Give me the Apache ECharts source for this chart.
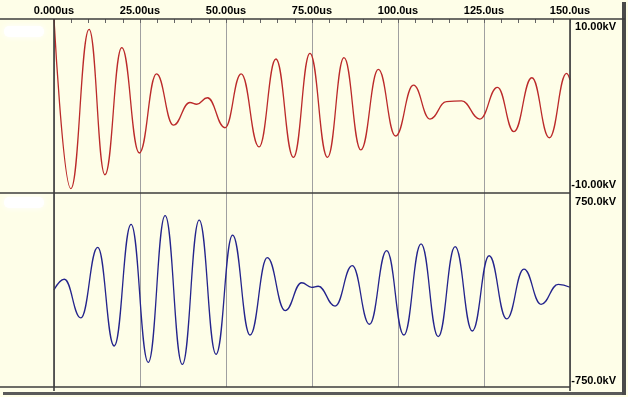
<!DOCTYPE html>
<html>
<head>
<meta charset="utf-8">
<script src="https://cdn.jsdelivr.net/npm/echarts@6/dist/echarts.min.js"></script>
<style>
html,body{margin:0;padding:0;background:#fefee8;}
#c{width:628px;height:397px;}
</style>
</head>
<body>
<div id="c"></div>
<script>
// ---- data ----
var xTickLabels = ["0.000us","25.00us","50.00us","75.00us","100.0us","125.0us","150.0us"];
var redAxisLabels = ["-10.00kV","10.00kV"];
var blueAxisLabels = ["-750.0kV","750.0kV"];

// top trace (kV): extrema
var redTimes  = [0, 4.9, 10.2, 14.8, 19.7, 24.8, 29.8, 34.7, 39.5, 41.5, 44.6, 49.7, 54.4, 59.6, 64.5, 69.6, 74.4, 79.5, 84.3, 89.2, 94.3, 99.3, 104.5, 109.3, 114.1, 118.5, 123.8, 128.9, 133.7, 138.9, 144.0, 149.0, 150];
var redValues = [10, -9.5, 8.8, -7.9, 6.7, -5.4, 3.7, -2.2, 0.4, 0.2, 0.95, -2.5, 3.7, -4.7, 5.4, -5.9, 6.05, -5.9, 5.55, -5.05, 4.2, -3.45, 2.4, -1.5, 0.5, 0.6, -1.5, 2.15, -2.95, 3.25, -3.65, 3.75, 3.0];

// bottom trace (kV)
var blueTimes  = [0, 3, 7.8, 12.7, 17.5, 22.4, 27.4, 32.3, 37.3, 42.2, 47.1, 51.9, 57, 62, 67.2, 72, 74.9, 76.8, 81.7, 86.7, 91.7, 96.7, 101.7, 106.7, 111.7, 116.6, 121.6, 126.5, 131.6, 136.6, 141.6, 146.6, 150];
var blueValues = [0, 83, -216, 330, -433, 508, -559, 575, -575, 541, -497, 425, -348, 250, -160, 56, 21, 29, -124, 188, -265, 304, -348, 356, -361, 335, -317, 265, -224, 162, -111, 44, 21];

function pairs(ts, vs){ return ts.map(function(t,i){ return [t, vs[i]]; }); }

var chart = echarts.init(document.getElementById('c'), null, {renderer:'canvas'});
var FONT = '"Liberation Sans", Arial, sans-serif';
var frame = '#3c3c3c';

function xAx(idx, showLabels){
  return {
    gridIndex: idx, type: 'value', min: 0, max: 150, interval: 25,
    position: 'top',
    axisLine: {show: false, onZero: false},
    axisTick: {show: showLabels, inside: true, length: 4, lineStyle: {color: '#666'}},
    minorTick: {show: showLabels, splitNumber: 5, length: 4, lineStyle: {color: '#666'}},
    splitLine: {show: true, lineStyle: {color: '#a0a0a0', width: 1}},
    axisLabel: {show: showLabels, margin: 3, color: '#000', fontFamily: FONT, fontWeight: 'bold', fontSize: 11,
      formatter: function(v){ return xTickLabels[Math.round(v/25)]; }}
  };
}
function lblRich(){
  var base = {fontFamily: FONT, fontWeight: 'bold', fontSize: 11, color: '#000'};
  function mk(p){ return Object.assign({padding: p}, base); }
  return {
    d6: mk([16,0,0,0]), d9: mk([18,0,0,0]), u8: mk([0,0,16,0]), u6: mk([0,0,12,0])
  };
}
function yAx(idx, mn, mx, labels, topKey, botKey){
  return {
    gridIndex: idx, type: 'value', min: mn, max: mx, interval: mx - mn, position: 'right',
    axisLine: {show: false}, axisTick: {show: false}, splitLine: {show: false},
    axisLabel: {show: true, align: 'right', margin: 46, rich: lblRich(),
      formatter: function(v){ return v >= mx ? '{' + topKey + '|' + labels[1] + '}' : '{' + botKey + '|' + labels[0] + '}'; }}
  };
}

function hline(x1, x2, y, c, w){ return {type:'line', z: 100, shape:{x1:x1, y1:y, x2:x2, y2:y}, style:{stroke:c, lineWidth:w||1.5}}; }
function vline(x, y1, y2, c, w){ return {type:'line', z: 100, shape:{x1:x, y1:y1, x2:x, y2:y2}, style:{stroke:c, lineWidth:w||1.5}}; }

chart.setOption({
  animation: false,
  backgroundColor: '#fefee8',
  grid: [
    {left: 54, top: 19, width: 516, height: 174},
    {left: 54, top: 193, width: 516, height: 194}
  ],
  xAxis: [xAx(0, true), xAx(1, false)],
  yAxis: [yAx(0, -10, 10, redAxisLabels, 'd6', 'u8'), yAx(1, -750, 750, blueAxisLabels, 'd9', 'u6')],
  series: [
    {type: 'line', xAxisIndex: 0, yAxisIndex: 0, data: pairs(redTimes, redValues), showSymbol: false,
     smooth: 0.45, smoothMonotone: 'x', lineStyle: {color: '#bb2a2a', width: 1.3}, z: 5},
    {type: 'line', xAxisIndex: 1, yAxisIndex: 1, data: pairs(blueTimes, blueValues), showSymbol: false,
     smooth: 0.45, smoothMonotone: 'x', lineStyle: {color: '#24248c', width: 1.3}, z: 5}
  ],
  graphic: [
    hline(0, 625, 19, frame, 1.6),
    hline(0, 570, 193, frame, 1.6),
    hline(0, 570, 387, frame, 1.6),
    vline(54, 19, 391, frame, 1.6),
    vline(570, 19, 391, frame, 1.6),
    {type:'rect', z: 90, shape:{x:3, y:392, width:622, height:3}, style:{fill:'#5a5a5a'}},
    {type:'rect', z: 90, shape:{x:622, y:2, width:4, height:393}, style:{fill:'#4a4a4a'}},
    {type:'rect', z: 90, shape:{x:4, y:26, width:40, height:11, r:5}, style:{fill:'#ffffff', shadowBlur:6, shadowColor:'#ffffff'}},
    {type:'rect', z: 90, shape:{x:4, y:197, width:40, height:11, r:5}, style:{fill:'#ffffff', shadowBlur:6, shadowColor:'#ffffff'}}
  ]
});
</script>
</body>
</html>
